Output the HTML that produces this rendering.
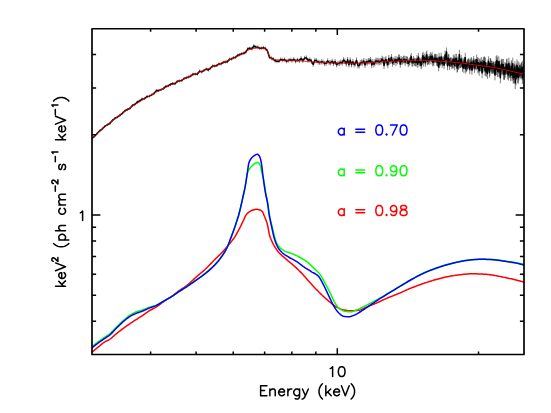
<!DOCTYPE html>
<html><head><meta charset="utf-8"><title>plot</title>
<style>html,body{margin:0;padding:0;background:#fff;font-family:"Liberation Sans",sans-serif;}svg{display:block}</style>
</head><body>
<svg width="551" height="413" viewBox="0 0 551 413">
<rect width="551" height="413" fill="#fff"/>
<defs><clipPath id="cp"><rect x="92.00" y="28.75" width="432.00" height="325.75"/></clipPath></defs>
<g clip-path="url(#cp)">
<path d="M92.00 137.26 V139.78 M94.60 134.93 V137.46 M97.19 132.23 V134.77 M99.77 129.56 V132.12 M102.34 127.51 V130.08 M104.90 125.01 V127.59 M107.45 123.43 V126.02 M109.99 122.03 V124.63 M112.52 119.01 V121.62 M115.04 116.96 V119.59 M117.55 115.65 V118.29 M120.06 113.71 V116.36 M122.55 111.76 V114.41 M125.03 109.41 V112.08 M127.50 108.20 V110.88 M129.97 106.95 V109.64 M132.42 104.13 V106.84 M134.87 103.06 V105.77 M137.30 100.67 V103.39 M139.73 99.53 V102.26 M142.14 97.72 V100.47 M144.55 97.25 V100.00 M146.95 95.22 V97.99 M149.34 94.80 V97.58 M151.72 93.41 V96.20 M154.09 91.90 V94.70 M156.45 89.18 V91.99 M158.80 89.16 V91.98 M161.14 88.26 V91.09 M163.48 87.17 V90.01 M165.80 84.96 V87.82 M168.12 84.50 V87.36 M170.43 83.06 V85.93 M172.72 82.07 V84.95 M175.01 82.21 V85.11 M177.29 79.93 V82.83 M179.57 79.40 V82.31 M181.83 78.98 V81.91 M184.08 77.00 V79.93 M186.33 76.32 V79.26 M188.57 75.49 V78.45 M190.80 74.49 V77.46 M193.02 72.65 V75.63 M195.23 72.60 V75.59 M197.43 72.55 V75.56 M199.62 69.59 V72.61 M201.81 70.37 V73.40 M203.99 68.93 V71.98 M206.16 67.47 V70.53 M208.32 68.48 V71.55 M210.47 66.69 V69.77 M212.62 64.35 V67.45 M214.75 64.40 V67.51 M216.88 63.88 V67.01 M219.00 62.42 V65.56 M221.11 62.19 V65.35 M223.21 60.73 V63.90 M225.31 60.39 V63.57 M227.40 60.08 V63.28 M229.48 57.57 V60.77 M231.55 57.41 V60.63 M233.61 56.05 V59.29 M235.67 55.65 V58.90 M237.71 53.65 V56.91 M239.75 53.04 V56.31 M241.78 52.09 V55.37 M243.81 51.59 V54.88 M245.82 50.40 V53.72 M247.83 47.17 V50.49 M249.83 46.61 V49.95 M251.83 47.07 V50.42 M253.81 44.35 V47.71 M255.79 45.29 V48.66 M257.76 45.44 V48.83 M259.72 46.64 V50.04 M261.68 46.44 V49.89 M263.62 46.05 V49.55 M265.56 46.82 V50.38 M267.50 49.29 V52.90 M269.42 55.45 V59.11 M271.34 56.33 V60.05 M273.25 57.15 V60.92 M275.15 58.82 V62.64 M277.05 59.40 V63.27 M278.94 59.18 V63.10 M280.82 57.40 V61.38 M282.69 58.19 V62.21 M284.56 57.54 V61.62 M286.42 59.21 V63.34 M288.27 58.52 V62.70 M290.11 57.65 V61.88 M291.95 58.42 V62.70 M293.78 57.19 V61.52 M295.61 58.91 V63.29 M297.42 57.65 V62.08 M299.23 58.46 V62.94 M301.04 56.16 V60.68 M302.83 58.38 V62.94 M304.60 55.84 V60.45 M306.35 55.50 V60.14 M308.09 57.95 V62.63 M309.81 57.30 V62.02 M311.51 58.91 V63.66 M313.19 61.97 V66.76 M314.86 57.85 V62.68 M316.51 58.29 V63.16 M318.15 59.62 V64.52 M319.77 60.19 V65.12 M321.37 59.36 V64.33 M322.96 59.43 V64.44 M324.53 60.89 V65.93 M326.08 60.73 V65.81 M327.62 58.49 V63.59 M329.14 60.01 V65.15 M330.65 60.25 V65.43 M332.15 58.63 V63.84 M333.62 60.72 V65.96 M335.09 59.01 V64.28 M336.54 61.94 V67.24 M337.97 60.73 V66.07 M339.39 60.59 V65.96 M340.80 59.51 V64.90 M342.19 60.28 V65.71 M343.57 57.19 V62.65 M344.93 58.60 V64.09 M346.28 61.08 V66.60 M347.62 56.89 V62.43 M348.94 61.88 V67.46 M350.26 57.45 V63.06 M351.55 61.69 V67.35 M352.84 58.88 V64.58 M354.11 61.68 V67.42 M355.37 60.49 V66.28 M356.61 57.46 V63.29 M357.85 62.41 V68.29 M359.07 62.72 V68.64 M360.28 59.91 V65.87 M361.48 59.46 V65.46 M362.66 59.59 V65.64 M363.83 57.98 V64.06 M365.00 61.83 V67.96 M366.15 58.62 V64.79 M367.28 59.49 V65.69 M368.41 57.96 V64.21 M369.53 58.20 V64.48 M370.63 56.82 V63.14 M371.73 61.78 V68.14 M372.81 58.88 V65.28 M373.88 61.07 V67.51 M374.94 59.07 V65.55 M375.99 57.54 V64.06 M377.03 58.23 V64.78 M378.06 57.67 V64.26 M379.08 58.79 V65.41 M380.09 57.92 V64.58 M381.09 58.02 V64.71 M382.08 55.65 V62.38 M383.06 56.81 V63.57 M384.04 62.06 V68.86 M385.00 56.97 V63.80 M385.96 56.06 V62.92 M386.91 59.05 V65.95 M387.86 61.36 V68.29 M388.79 54.94 V61.90 M389.72 57.64 V64.63 M390.64 56.61 V63.64 M391.55 53.97 V61.03 M392.45 59.55 V66.65 M393.35 57.75 V64.88 M394.24 57.89 V65.05 M395.12 55.91 V63.09 M395.99 58.63 V65.84 M396.86 56.23 V63.48 M397.72 57.08 V64.36 M398.57 54.72 V62.03 M399.42 54.37 V61.71 M400.25 60.37 V67.74 M401.08 55.90 V63.29 M401.91 57.74 V65.17 M402.73 56.89 V64.34 M403.54 55.84 V63.32 M404.34 55.61 V63.11 M405.14 58.33 V65.86 M405.93 55.99 V63.55 M406.71 56.30 V63.89 M407.49 56.68 V64.29 M408.26 59.50 V67.14 M409.03 58.23 V65.89 M409.78 57.45 V65.14 M410.54 55.04 V62.75 M411.28 52.93 V60.67 M412.02 58.79 V66.55 M412.75 58.82 V66.60 M413.48 55.97 V63.78 M414.20 57.69 V65.52 M414.92 58.29 V66.15 M415.63 58.41 V66.28 M416.33 58.63 V66.53 M417.03 55.05 V62.97 M417.72 60.17 V68.11 M418.40 52.95 V60.92 M419.08 58.46 V66.45 M419.76 57.50 V65.51 M420.43 58.50 V66.54 M421.09 61.17 V69.23 M421.75 60.14 V68.22 M422.40 53.15 V61.25 M423.05 51.69 V59.81 M423.69 58.40 V66.54 M424.32 53.49 V61.65 M424.95 56.20 V64.38 M425.58 58.52 V66.72 M426.20 51.80 V60.02 M426.81 50.53 V58.77 M427.42 57.00 V65.26 M428.03 56.43 V64.71 M428.63 55.65 V63.96 M429.22 56.45 V64.78 M429.81 53.99 V62.34 M430.40 52.20 V60.57 M430.98 55.95 V64.34 M431.55 53.74 V62.14 M432.12 51.88 V60.30 M432.69 57.91 V66.34 M433.25 56.35 V64.80 M433.81 57.69 V66.16 M434.36 53.78 V62.28 M434.90 54.74 V63.25 M435.45 53.80 V62.33 M435.99 54.14 V62.69 M436.52 57.24 V65.81 M437.05 54.48 V63.06 M437.57 57.76 V66.36 M438.09 57.75 V66.36 M438.61 62.62 V71.25 M439.12 52.82 V61.47 M439.63 59.42 V68.09 M440.13 56.63 V65.31 M440.63 56.88 V65.58 M441.13 52.73 V61.45 M441.63 55.63 V64.37 M442.12 59.17 V67.93 M442.62 56.78 V65.57 M443.11 57.29 V66.09 M443.61 56.22 V65.04 M444.10 60.52 V69.35 M444.59 57.07 V65.93 M445.08 50.64 V59.51 M445.57 55.13 V64.03 M446.06 51.35 V60.26 M446.55 47.53 V56.46 M447.04 55.69 V64.64 M447.52 61.30 V70.27 M448.01 57.47 V66.46 M448.49 53.82 V62.83 M448.97 54.54 V63.57 M449.45 60.84 V69.89 M449.94 57.93 V66.99 M450.42 57.62 V66.70 M450.89 57.34 V66.44 M451.37 57.65 V66.77 M451.85 60.04 V69.17 M452.33 59.30 V68.45 M452.80 58.30 V67.47 M453.27 54.45 V63.64 M453.75 59.28 V68.49 M454.22 55.61 V64.84 M454.69 61.17 V70.41 M455.16 53.84 V63.10 M455.63 57.41 V66.69 M456.10 57.85 V67.15 M456.57 53.76 V63.07 M457.03 63.36 V72.70 M457.50 62.59 V71.94 M457.96 56.56 V65.93 M458.43 60.51 V69.90 M458.89 59.31 V68.71 M459.35 49.84 V59.27 M459.81 58.99 V68.43 M460.27 58.04 V67.50 M460.73 58.54 V68.02 M461.19 54.87 V64.37 M461.65 57.50 V67.01 M462.10 57.84 V67.37 M462.56 62.29 V71.84 M463.01 59.59 V69.15 M463.46 58.54 V68.12 M463.92 63.57 V73.17 M464.37 56.85 V66.47 M464.82 57.44 V67.07 M465.27 52.82 V62.48 M465.72 63.94 V73.61 M466.17 62.02 V71.71 M466.61 61.92 V71.63 M467.06 61.16 V70.89 M467.50 59.38 V69.12 M467.95 59.78 V69.53 M468.39 58.28 V68.06 M468.84 58.49 V68.28 M469.28 59.40 V69.21 M469.72 64.31 V74.14 M470.16 61.18 V71.02 M470.60 59.19 V69.04 M471.03 57.49 V67.37 M471.47 57.35 V67.25 M471.91 64.93 V74.84 M472.34 61.30 V71.22 M472.78 59.87 V69.81 M473.21 58.52 V68.48 M473.64 55.98 V65.96 M474.08 59.57 V69.56 M474.51 62.82 V72.83 M474.94 58.56 V68.58 M475.37 59.17 V69.21 M475.80 59.24 V69.30 M476.22 60.42 V70.49 M476.65 54.62 V64.71 M477.08 59.33 V69.44 M477.50 57.24 V67.36 M477.92 63.29 V73.43 M478.35 57.61 V67.77 M478.77 62.32 V72.50 M479.19 65.66 V75.85 M479.61 59.32 V69.52 M480.03 58.36 V68.58 M480.45 61.16 V71.41 M480.87 60.52 V70.79 M481.29 57.08 V67.37 M481.70 62.23 V72.54 M482.12 67.76 V78.10 M482.53 59.77 V70.13 M482.95 60.00 V70.39 M483.36 57.05 V67.45 M483.77 61.94 V72.37 M484.18 56.38 V66.83 M484.59 56.91 V67.39 M485.00 65.52 V76.01 M485.41 57.70 V68.22 M485.82 64.91 V75.45 M486.23 66.56 V77.12 M486.63 62.03 V72.61 M487.04 63.14 V73.75 M487.45 68.29 V78.92 M487.85 60.51 V71.16 M488.25 59.10 V69.77 M488.65 56.35 V67.05 M489.06 61.52 V72.24 M489.46 66.87 V77.61 M489.86 65.01 V75.78 M490.26 58.03 V68.82 M490.65 58.40 V69.21 M491.05 59.75 V70.58 M491.45 62.77 V73.62 M491.84 60.97 V71.84 M492.24 62.60 V73.49 M492.63 62.97 V73.88 M493.03 60.79 V71.72 M493.42 61.82 V72.78 M493.81 62.81 V73.79 M494.20 61.77 V72.77 M494.59 64.06 V75.08 M494.98 69.33 V80.37 M495.37 64.53 V75.59 M495.76 62.55 V73.64 M496.15 55.94 V67.05 M496.53 63.95 V75.08 M496.92 55.04 V66.19 M497.30 57.16 V68.34 M497.69 65.96 V77.15 M498.07 65.46 V76.67 M498.45 62.21 V73.44 M498.83 56.21 V67.47 M499.22 61.48 V72.76 M499.60 60.34 V71.64 M499.98 65.55 V76.87 M500.35 71.97 V83.31 M500.73 64.05 V75.41 M501.11 60.20 V71.58 M501.49 58.72 V70.13 M501.86 63.19 V74.61 M502.24 62.78 V74.22 M502.61 58.98 V70.45 M502.98 64.08 V75.57 M503.36 59.11 V70.62 M503.73 68.20 V79.73 M504.10 68.08 V79.63 M504.47 68.25 V79.82 M504.84 62.08 V73.66 M505.21 66.12 V77.73 M505.57 63.59 V75.22 M505.94 62.63 V74.28 M506.31 62.90 V74.57 M506.67 59.08 V70.77 M507.04 58.56 V70.26 M507.40 67.72 V79.45 M507.77 63.79 V75.53 M508.13 65.52 V77.29 M508.49 68.81 V80.60 M508.85 57.68 V69.49 M509.21 61.64 V73.47 M509.57 65.65 V77.50 M509.93 66.62 V78.49 M510.29 63.52 V75.41 M510.65 69.41 V81.32 M511.01 66.10 V78.02 M511.36 60.26 V72.21 M511.72 61.50 V73.47 M512.07 68.80 V80.79 M512.43 67.46 V79.46 M512.78 57.65 V69.68 M513.13 71.31 V83.36 M513.49 68.25 V80.31 M513.84 71.46 V83.54 M514.19 64.27 V76.37 M514.54 64.71 V76.83 M514.89 61.27 V73.41 M515.24 76.84 V89.00 M515.58 65.43 V77.61 M515.93 72.99 V85.19 M516.28 63.56 V75.78 M516.62 67.09 V79.32 M516.97 59.32 V71.58 M517.31 64.90 V77.17 M517.65 70.82 V83.11 M518.00 61.30 V73.61 M518.34 71.36 V83.68 M518.68 68.27 V80.61 M519.02 62.38 V74.75 M519.36 64.79 V77.17 M519.70 65.04 V77.44 M520.04 66.88 V79.30 M520.38 64.83 V77.27 M520.72 63.63 V76.09 M521.05 65.97 V78.45 M521.39 62.88 V75.38 M521.72 61.79 V74.31 M522.06 67.29 V79.82 M522.39 71.44 V83.99 M522.72 60.91 V73.48 M523.06 67.71 V80.30 M523.39 64.90 V77.50 M523.72 63.51 V76.14" stroke="#000" stroke-width="0.5" fill="none"/>
<path d="M92.00 138.52 L94.60 136.20 L97.19 133.50 L99.77 130.84 L102.34 128.80 L104.90 126.30 L107.45 124.72 L109.99 123.33 L112.52 120.31 L115.04 118.27 L117.55 116.97 L120.06 115.04 L122.55 113.09 L125.03 110.74 L127.50 109.54 L129.97 108.29 L132.42 105.48 L134.87 104.42 L137.30 102.03 L139.73 100.89 L142.14 99.09 L144.55 98.62 L146.95 96.61 L149.34 96.19 L151.72 94.80 L154.09 93.30 L156.45 90.58 L158.80 90.57 L161.14 89.67 L163.48 88.59 L165.80 86.39 L168.12 85.93 L170.43 84.49 L172.72 83.51 L175.01 83.66 L177.29 81.38 L179.57 80.85 L181.83 80.45 L184.08 78.46 L186.33 77.79 L188.57 76.97 L190.80 75.97 L193.02 74.14 L195.23 74.09 L197.43 74.06 L199.62 71.10 L201.81 71.88 L203.99 70.45 L206.16 69.00 L208.32 70.02 L210.47 68.23 L212.62 65.90 L214.75 65.95 L216.88 65.45 L219.00 63.99 L221.11 63.77 L223.21 62.31 L225.31 61.98 L227.40 61.68 L229.48 59.17 L231.55 59.02 L233.61 57.67 L235.67 57.28 L237.71 55.28 L239.75 54.67 L241.78 53.73 L243.81 53.24 L245.82 52.06 L247.83 48.83 L249.83 48.28 L251.83 48.74 L253.81 46.03 L255.79 46.98 L257.76 47.13 L259.72 48.34 L261.68 48.16 L263.62 47.80 L265.56 48.60 L267.50 51.09 L269.42 57.28 L271.34 58.19 L273.25 59.04 L275.15 60.73 L277.05 61.34 L278.94 61.14 L280.82 59.39 L282.69 60.20 L284.56 59.58 L286.42 61.28 L288.27 60.61 L290.11 59.76 L291.95 60.56 L293.78 59.36 L295.61 61.10 L297.42 59.86 L299.23 60.70 L301.04 58.42 L302.83 60.66 L304.60 58.14 L306.35 57.82 L308.09 60.29 L309.81 59.66 L311.51 61.29 L313.19 64.36 L314.86 60.26 L316.51 60.73 L318.15 62.07 L319.77 62.66 L321.37 61.84 L322.96 61.94 L324.53 63.41 L326.08 63.27 L327.62 61.04 L329.14 62.58 L330.65 62.84 L332.15 61.23 L333.62 63.34 L335.09 61.65 L336.54 64.59 L337.97 63.40 L339.39 63.28 L340.80 62.21 L342.19 63.00 L343.57 59.92 L344.93 61.35 L346.28 63.84 L347.62 59.66 L348.94 64.67 L350.26 60.25 L351.55 64.52 L352.84 61.73 L354.11 64.55 L355.37 63.39 L356.61 60.38 L357.85 65.35 L359.07 65.68 L360.28 62.89 L361.48 62.46 L362.66 62.62 L363.83 61.02 L365.00 64.90 L366.15 61.71 L367.28 62.59 L368.41 61.08 L369.53 61.34 L370.63 59.98 L371.73 64.96 L372.81 62.08 L373.88 64.29 L374.94 62.31 L375.99 60.80 L377.03 61.50 L378.06 60.96 L379.08 62.10 L380.09 61.25 L381.09 61.36 L382.08 59.02 L383.06 60.19 L384.04 65.46 L385.00 60.38 L385.96 59.49 L386.91 62.50 L387.86 64.82 L388.79 58.42 L389.72 61.14 L390.64 60.12 L391.55 57.50 L392.45 63.10 L393.35 61.31 L394.24 61.47 L395.12 59.50 L395.99 62.23 L396.86 59.85 L397.72 60.72 L398.57 58.37 L399.42 58.04 L400.25 64.05 L401.08 59.60 L401.91 61.46 L402.73 60.62 L403.54 59.58 L404.34 59.36 L405.14 62.09 L405.93 59.77 L406.71 60.10 L407.49 60.49 L408.26 63.32 L409.03 62.06 L409.78 61.29 L410.54 58.89 L411.28 56.80 L412.02 62.67 L412.75 62.71 L413.48 59.87 L414.20 61.61 L414.92 62.22 L415.63 62.35 L416.33 62.58 L417.03 59.01 L417.72 64.14 L418.40 56.94 L419.08 62.46 L419.76 61.50 L420.43 62.52 L421.09 65.20 L421.75 64.18 L422.40 57.20 L423.05 55.75 L423.69 62.47 L424.32 57.57 L424.95 60.29 L425.58 62.62 L426.20 55.91 L426.81 54.65 L427.42 61.13 L428.03 60.57 L428.63 59.81 L429.22 60.62 L429.81 58.17 L430.40 56.39 L430.98 60.15 L431.55 57.94 L432.12 56.09 L432.69 62.13 L433.25 60.57 L433.81 61.93 L434.36 58.03 L434.90 59.00 L435.45 58.06 L435.99 58.41 L436.52 61.52 L437.05 58.77 L437.57 62.06 L438.09 62.05 L438.61 66.94 L439.12 57.15 L439.63 63.76 L440.13 60.97 L440.63 61.23 L441.13 57.09 L441.63 60.00 L442.12 63.55 L442.62 61.17 L443.11 61.69 L443.61 60.63 L444.10 64.93 L444.59 61.50 L445.08 55.08 L445.57 59.58 L446.06 55.81 L446.55 52.00 L447.04 60.16 L447.52 65.79 L448.01 61.97 L448.49 58.33 L448.97 59.06 L449.45 65.37 L449.94 62.46 L450.42 62.16 L450.89 61.89 L451.37 62.21 L451.85 64.61 L452.33 63.88 L452.80 62.88 L453.27 59.04 L453.75 63.88 L454.22 60.22 L454.69 65.79 L455.16 58.47 L455.63 62.05 L456.10 62.50 L456.57 58.41 L457.03 68.03 L457.50 67.26 L457.96 61.25 L458.43 65.20 L458.89 64.01 L459.35 54.55 L459.81 63.71 L460.27 62.77 L460.73 63.28 L461.19 59.62 L461.65 62.26 L462.10 62.60 L462.56 67.07 L463.01 64.37 L463.46 63.33 L463.92 68.37 L464.37 61.66 L464.82 62.25 L465.27 57.65 L465.72 68.78 L466.17 66.86 L466.61 66.77 L467.06 66.02 L467.50 64.25 L467.95 64.66 L468.39 63.17 L468.84 63.39 L469.28 64.31 L469.72 69.23 L470.16 66.10 L470.60 64.11 L471.03 62.43 L471.47 62.30 L471.91 69.88 L472.34 66.26 L472.78 64.84 L473.21 63.50 L473.64 60.97 L474.08 64.56 L474.51 67.82 L474.94 63.57 L475.37 64.19 L475.80 64.27 L476.22 65.46 L476.65 59.66 L477.08 64.38 L477.50 62.30 L477.92 68.36 L478.35 62.69 L478.77 67.41 L479.19 70.76 L479.61 64.42 L480.03 63.47 L480.45 66.28 L480.87 65.66 L481.29 62.23 L481.70 67.39 L482.12 72.93 L482.53 64.95 L482.95 65.19 L483.36 62.25 L483.77 67.15 L484.18 61.61 L484.59 62.15 L485.00 70.76 L485.41 62.96 L485.82 70.18 L486.23 71.84 L486.63 67.32 L487.04 68.45 L487.45 73.60 L487.85 65.83 L488.25 64.44 L488.65 61.70 L489.06 66.88 L489.46 72.24 L489.86 70.40 L490.26 63.43 L490.65 63.80 L491.05 65.17 L491.45 68.20 L491.84 66.41 L492.24 68.04 L492.63 68.42 L493.03 66.25 L493.42 67.30 L493.81 68.30 L494.20 67.27 L494.59 69.57 L494.98 74.85 L495.37 70.06 L495.76 68.09 L496.15 61.50 L496.53 69.52 L496.92 60.62 L497.30 62.75 L497.69 71.55 L498.07 71.06 L498.45 67.83 L498.83 61.84 L499.22 67.12 L499.60 65.99 L499.98 71.21 L500.35 77.64 L500.73 69.73 L501.11 65.89 L501.49 64.43 L501.86 68.90 L502.24 68.50 L502.61 64.72 L502.98 69.83 L503.36 64.86 L503.73 73.96 L504.10 73.86 L504.47 74.04 L504.84 67.87 L505.21 71.93 L505.57 69.41 L505.94 68.45 L506.31 68.73 L506.67 64.92 L507.04 64.41 L507.40 73.59 L507.77 69.66 L508.13 71.41 L508.49 74.70 L508.85 63.59 L509.21 67.55 L509.57 71.58 L509.93 72.56 L510.29 69.47 L510.65 75.36 L511.01 72.06 L511.36 66.24 L511.72 67.49 L512.07 74.80 L512.43 73.46 L512.78 63.66 L513.13 77.33 L513.49 74.28 L513.84 77.50 L514.19 70.32 L514.54 70.77 L514.89 67.34 L515.24 82.92 L515.58 71.52 L515.93 79.09 L516.28 69.67 L516.62 73.21 L516.97 65.45 L517.31 71.03 L517.65 76.97 L518.00 67.46 L518.34 77.52 L518.68 74.44 L519.02 68.56 L519.36 70.98 L519.70 71.24 L520.04 73.09 L520.38 71.05 L520.72 69.86 L521.05 72.21 L521.39 69.13 L521.72 68.05 L522.06 73.55 L522.39 77.71 L522.72 67.20 L523.06 74.01 L523.39 71.20 L523.72 69.82" stroke="#000" stroke-width="1.5" fill="none" stroke-linejoin="round"/>
<path d="M92.00 138.52 L93.00 137.56 L94.00 136.61 L95.00 135.67 L96.00 134.74 L97.00 133.81 L98.00 132.90 L99.00 132.00 L100.00 131.10 L101.00 130.21 L102.00 129.33 L103.00 128.46 L104.00 127.60 L105.00 126.75 L106.00 125.90 L107.00 125.06 L108.00 124.23 L109.00 123.41 L110.00 122.60 L111.00 121.79 L112.00 121.00 L113.00 120.21 L114.00 119.42 L115.00 118.65 L116.00 117.88 L117.00 117.12 L118.00 116.36 L119.00 115.62 L120.00 114.88 L121.00 114.14 L122.00 113.42 L123.00 112.70 L124.00 111.99 L125.00 111.29 L126.00 110.59 L127.00 109.90 L128.00 109.22 L129.00 108.54 L130.00 107.87 L131.00 107.20 L132.00 106.54 L133.00 105.89 L134.00 105.24 L135.00 104.60 L136.00 103.97 L137.00 103.34 L138.00 102.72 L139.00 102.10 L140.00 101.49 L141.00 100.88 L142.00 100.28 L143.00 99.68 L144.00 99.09 L145.00 98.50 L146.00 97.92 L147.00 97.35 L148.00 96.78 L149.00 96.21 L150.00 95.65 L151.00 95.10 L152.00 94.55 L153.00 94.00 L154.00 93.46 L155.00 92.92 L156.00 92.39 L157.00 91.86 L158.00 91.33 L159.00 90.81 L160.00 90.29 L161.00 89.78 L162.00 89.27 L163.00 88.76 L164.00 88.26 L165.00 87.76 L166.00 87.27 L167.00 86.78 L168.00 86.29 L169.00 85.81 L170.00 85.33 L171.00 84.85 L172.00 84.38 L173.00 83.91 L174.00 83.44 L175.00 82.97 L176.00 82.51 L177.00 82.05 L178.00 81.59 L179.00 81.13 L180.00 80.68 L181.00 80.23 L182.00 79.78 L183.00 79.33 L184.00 78.89 L185.00 78.45 L186.00 78.01 L187.00 77.58 L188.00 77.14 L189.00 76.71 L190.00 76.27 L191.00 75.84 L192.00 75.41 L193.00 74.99 L194.00 74.56 L195.00 74.14 L196.00 73.71 L197.00 73.29 L198.00 72.87 L199.00 72.45 L200.00 72.03 L201.00 71.61 L202.00 71.19 L203.00 70.78 L204.00 70.36 L205.00 69.95 L206.00 69.53 L207.00 69.11 L208.00 68.70 L209.00 68.28 L210.00 67.87 L211.00 67.45 L212.00 67.04 L213.00 66.63 L214.00 66.21 L215.00 65.80 L216.00 65.38 L217.00 64.97 L218.00 64.55 L219.00 64.13 L220.00 63.72 L221.00 63.30 L222.00 62.88 L223.00 62.46 L224.00 62.03 L225.00 61.60 L226.00 61.17 L227.00 60.74 L228.00 60.31 L229.00 59.89 L230.00 59.48 L231.00 59.08 L232.00 58.68 L233.00 58.28 L234.00 57.88 L235.00 57.47 L236.00 57.04 L237.00 56.59 L238.00 56.11 L239.00 55.60 L240.00 55.05 L241.00 54.47 L242.00 53.85 L243.00 53.21 L244.00 52.56 L245.00 51.91 L246.00 51.30 L247.00 50.74 L248.00 50.24 L249.00 49.80 L250.00 49.42 L251.00 49.10 L252.00 48.83 L253.00 48.61 L254.00 48.43 L255.00 48.27 L256.00 48.14 L257.00 48.04 L258.00 47.98 L259.00 47.96 L260.00 47.98 L261.00 48.06 L262.00 48.19 L263.00 48.39 L264.00 48.64 L265.00 48.98 L266.00 49.55 L267.00 50.68 L268.00 52.60 L269.00 54.98 L270.00 57.16 L271.00 58.44 L272.00 58.96 L273.00 59.18 L274.00 59.39 L275.00 59.60 L276.00 59.79 L277.00 59.96 L278.00 60.10 L279.00 60.20 L280.00 60.27 L281.00 60.30 L282.00 60.32 L283.00 60.31 L284.00 60.29 L285.00 60.27 L286.00 60.24 L287.00 60.22 L288.00 60.20 L289.00 60.20 L290.00 60.21 L291.00 60.23 L292.00 60.27 L293.00 60.31 L294.00 60.36 L295.00 60.43 L296.00 60.50 L297.00 60.57 L298.00 60.65 L299.00 60.74 L300.00 60.83 L301.00 60.92 L302.00 61.02 L303.00 61.11 L304.00 61.21 L305.00 61.30 L306.00 61.39 L307.00 61.48 L308.00 61.56 L309.00 61.65 L310.00 61.73 L311.00 61.80 L312.00 61.88 L313.00 61.95 L314.00 62.01 L315.00 62.08 L316.00 62.14 L317.00 62.21 L318.00 62.27 L319.00 62.32 L320.00 62.38 L321.00 62.43 L322.00 62.49 L323.00 62.54 L324.00 62.59 L325.00 62.63 L326.00 62.68 L327.00 62.73 L328.00 62.77 L329.00 62.81 L330.00 62.85 L331.00 62.89 L332.00 62.93 L333.00 62.97 L334.00 63.00 L335.00 63.03 L336.00 63.06 L337.00 63.09 L338.00 63.11 L339.00 63.14 L340.00 63.16 L341.00 63.18 L342.00 63.19 L343.00 63.21 L344.00 63.22 L345.00 63.23 L346.00 63.23 L347.00 63.24 L348.00 63.24 L349.00 63.24 L350.00 63.23 L351.00 63.22 L352.00 63.21 L353.00 63.20 L354.00 63.18 L355.00 63.16 L356.00 63.14 L357.00 63.12 L358.00 63.09 L359.00 63.06 L360.00 63.02 L361.00 62.98 L362.00 62.94 L363.00 62.90 L364.00 62.85 L365.00 62.81 L366.00 62.76 L367.00 62.70 L368.00 62.65 L369.00 62.60 L370.00 62.54 L371.00 62.49 L372.00 62.44 L373.00 62.38 L374.00 62.33 L375.00 62.28 L376.00 62.23 L377.00 62.18 L378.00 62.13 L379.00 62.09 L380.00 62.04 L381.00 62.00 L382.00 61.96 L383.00 61.92 L384.00 61.88 L385.00 61.84 L386.00 61.80 L387.00 61.75 L388.00 61.70 L389.00 61.64 L390.00 61.59 L391.00 61.52 L392.00 61.46 L393.00 61.39 L394.00 61.32 L395.00 61.25 L396.00 61.18 L397.00 61.10 L398.00 61.03 L399.00 60.96 L400.00 60.89 L401.00 60.82 L402.00 60.75 L403.00 60.68 L404.00 60.62 L405.00 60.56 L406.00 60.51 L407.00 60.45 L408.00 60.41 L409.00 60.37 L410.00 60.33 L411.00 60.30 L412.00 60.27 L413.00 60.24 L414.00 60.22 L415.00 60.21 L416.00 60.20 L417.00 60.19 L418.00 60.19 L419.00 60.20 L420.00 60.21 L421.00 60.22 L422.00 60.24 L423.00 60.26 L424.00 60.29 L425.00 60.32 L426.00 60.36 L427.00 60.40 L428.00 60.45 L429.00 60.50 L430.00 60.55 L431.00 60.61 L432.00 60.67 L433.00 60.73 L434.00 60.80 L435.00 60.86 L436.00 60.93 L437.00 61.00 L438.00 61.07 L439.00 61.15 L440.00 61.22 L441.00 61.30 L442.00 61.37 L443.00 61.44 L444.00 61.52 L445.00 61.59 L446.00 61.67 L447.00 61.75 L448.00 61.82 L449.00 61.90 L450.00 61.98 L451.00 62.07 L452.00 62.15 L453.00 62.24 L454.00 62.33 L455.00 62.42 L456.00 62.51 L457.00 62.61 L458.00 62.71 L459.00 62.82 L460.00 62.93 L461.00 63.05 L462.00 63.17 L463.00 63.29 L464.00 63.42 L465.00 63.55 L466.00 63.68 L467.00 63.81 L468.00 63.95 L469.00 64.09 L470.00 64.23 L471.00 64.37 L472.00 64.51 L473.00 64.64 L474.00 64.78 L475.00 64.92 L476.00 65.05 L477.00 65.18 L478.00 65.31 L479.00 65.44 L480.00 65.56 L481.00 65.68 L482.00 65.80 L483.00 65.92 L484.00 66.04 L485.00 66.17 L486.00 66.30 L487.00 66.43 L488.00 66.57 L489.00 66.72 L490.00 66.87 L491.00 67.03 L492.00 67.20 L493.00 67.37 L494.00 67.55 L495.00 67.74 L496.00 67.92 L497.00 68.12 L498.00 68.32 L499.00 68.52 L500.00 68.73 L501.00 68.94 L502.00 69.15 L503.00 69.37 L504.00 69.59 L505.00 69.81 L506.00 70.04 L507.00 70.26 L508.00 70.49 L509.00 70.72 L510.00 70.96 L511.00 71.19 L512.00 71.42 L513.00 71.66 L514.00 71.89 L515.00 72.13 L516.00 72.36 L517.00 72.60 L518.00 72.83 L519.00 73.06 L520.00 73.29 L521.00 73.52 L522.00 73.75 L523.00 73.98 L524.00 74.20" stroke="#f00" stroke-width="0.8" fill="none"/>
<path d="M92.00 352.20 L92.77 351.56 L93.54 350.92 L94.31 350.28 L95.08 349.65 L95.85 349.01 L96.63 348.38 L97.40 347.75 L98.18 347.12 L98.95 346.49 L99.73 345.85 L100.49 345.19 L101.26 344.54 L102.03 343.90 L102.81 343.27 L103.61 342.68 L104.43 342.13 L105.29 341.63 L106.19 341.18 L107.10 340.74 L108.01 340.30 L108.89 339.84 L109.74 339.33 L110.54 338.76 L111.32 338.14 L112.07 337.48 L112.81 336.80 L113.55 336.11 L114.29 335.43 L115.05 334.77 L115.82 334.14 L116.60 333.51 L117.38 332.89 L118.17 332.27 L118.95 331.65 L119.75 331.04 L120.54 330.43 L121.34 329.82 L122.14 329.22 L122.94 328.62 L123.74 328.03 L124.55 327.44 L125.36 326.86 L126.18 326.28 L126.99 325.71 L127.82 325.14 L128.64 324.57 L129.47 324.01 L130.30 323.45 L131.13 322.89 L131.96 322.33 L132.79 321.78 L133.63 321.23 L134.46 320.68 L135.30 320.13 L136.14 319.59 L136.98 319.05 L137.83 318.52 L138.67 317.98 L139.52 317.44 L140.36 316.90 L141.20 316.36 L142.03 315.81 L142.86 315.26 L143.69 314.69 L144.51 314.11 L145.32 313.53 L146.14 312.95 L146.96 312.37 L147.78 311.81 L148.61 311.25 L149.45 310.72 L150.31 310.20 L151.18 309.72 L152.07 309.25 L152.96 308.78 L153.84 308.32 L154.73 307.84 L155.59 307.35 L156.44 306.83 L157.28 306.29 L158.10 305.72 L158.91 305.14 L159.72 304.55 L160.53 303.95 L161.33 303.35 L162.14 302.76 L162.95 302.17 L163.76 301.59 L164.59 301.03 L165.43 300.48 L166.27 299.95 L167.12 299.41 L167.97 298.88 L168.82 298.35 L169.66 297.81 L170.49 297.26 L171.32 296.70 L172.13 296.11 L172.92 295.51 L173.71 294.89 L174.49 294.27 L175.27 293.64 L176.05 293.00 L176.83 292.38 L177.61 291.76 L178.41 291.16 L179.22 290.57 L180.04 290.00 L180.87 289.44 L181.71 288.89 L182.55 288.35 L183.40 287.80 L184.24 287.26 L185.07 286.70 L185.89 286.13 L186.70 285.55 L187.49 284.95 L188.26 284.32 L189.02 283.67 L189.76 283.01 L190.50 282.34 L191.23 281.66 L191.96 280.97 L192.68 280.27 L193.41 279.58 L194.14 278.89 L194.87 278.20 L195.61 277.52 L196.35 276.86 L197.11 276.21 L197.87 275.56 L198.64 274.91 L199.41 274.27 L200.18 273.64 L200.95 273.00 L201.72 272.35 L202.48 271.71 L203.24 271.06 L203.99 270.40 L204.74 269.74 L205.47 269.06 L206.19 268.37 L206.91 267.67 L207.62 266.97 L208.32 266.26 L209.02 265.55 L209.72 264.83 L210.41 264.11 L211.11 263.39 L211.80 262.66 L212.50 261.94 L213.19 261.22 L213.89 260.51 L214.60 259.80 L215.31 259.10 L216.02 258.39 L216.74 257.70 L217.46 257.00 L218.18 256.30 L218.89 255.60 L219.61 254.90 L220.32 254.20 L221.03 253.49 L221.73 252.78 L222.42 252.06 L223.11 251.34 L223.78 250.60 L224.45 249.86 L225.11 249.10 L225.76 248.35 L226.41 247.58 L227.05 246.81 L227.69 246.04 L228.32 245.27 L228.95 244.50 L229.59 243.72 L230.23 242.95 L230.87 242.18 L231.50 241.40 L232.13 240.61 L232.74 239.82 L233.34 239.02 L233.92 238.21 L234.47 237.39 L235.00 236.55 L235.53 235.70 L236.03 234.84 L236.53 233.97 L237.02 233.10 L237.50 232.22 L237.97 231.33 L238.44 230.44 L238.91 229.56 L239.37 228.67 L239.84 227.78 L240.29 226.89 L240.74 226.00 L241.18 225.10 L241.62 224.20 L242.05 223.30 L242.49 222.40 L242.93 221.50 L243.37 220.61 L243.80 219.69 L244.21 218.75 L244.62 217.80 L245.04 216.87 L245.49 215.98 L245.98 215.14 L246.53 214.36 L247.17 213.64 L247.91 212.95 L248.71 212.30 L249.55 211.71 L250.40 211.20 L251.28 210.73 L252.20 210.30 L253.14 209.94 L254.10 209.68 L255.08 209.46 L256.08 209.32 L257.07 209.32 L258.08 209.47 L259.06 209.69 L260.00 209.97 L260.95 210.43 L261.80 211.01 L262.42 211.67 L262.90 212.48 L263.31 213.42 L263.68 214.41 L264.05 215.38 L264.44 216.31 L264.83 217.23 L265.21 218.16 L265.59 219.09 L265.95 220.03 L266.30 220.97 L266.63 221.91 L266.94 222.86 L267.22 223.81 L267.47 224.77 L267.69 225.74 L267.89 226.72 L268.07 227.71 L268.25 228.70 L268.41 229.70 L268.58 230.69 L268.76 231.68 L268.95 232.66 L269.16 233.63 L269.39 234.60 L269.66 235.55 L269.96 236.50 L270.28 237.45 L270.64 238.39 L271.01 239.32 L271.41 240.25 L271.82 241.17 L272.25 242.08 L272.68 242.97 L273.13 243.86 L273.59 244.74 L274.07 245.62 L274.58 246.50 L275.10 247.36 L275.65 248.21 L276.21 249.05 L276.79 249.87 L277.38 250.67 L277.99 251.45 L278.61 252.20 L279.28 252.93 L279.97 253.64 L280.69 254.34 L281.43 255.02 L282.18 255.70 L282.94 256.36 L283.70 257.03 L284.46 257.69 L285.21 258.35 L285.96 259.02 L286.72 259.67 L287.48 260.32 L288.25 260.96 L289.02 261.59 L289.79 262.23 L290.56 262.87 L291.33 263.51 L292.09 264.16 L292.84 264.82 L293.59 265.49 L294.33 266.15 L295.08 266.82 L295.82 267.50 L296.55 268.17 L297.29 268.86 L298.01 269.54 L298.73 270.24 L299.44 270.94 L300.14 271.65 L300.83 272.37 L301.52 273.10 L302.19 273.83 L302.86 274.58 L303.52 275.33 L304.18 276.08 L304.84 276.84 L305.49 277.59 L306.15 278.35 L306.81 279.10 L307.47 279.86 L308.13 280.61 L308.80 281.35 L309.48 282.09 L310.15 282.82 L310.83 283.56 L311.51 284.30 L312.19 285.03 L312.87 285.77 L313.55 286.50 L314.23 287.23 L314.92 287.95 L315.61 288.68 L316.30 289.40 L317.00 290.11 L317.70 290.83 L318.41 291.53 L319.11 292.24 L319.83 292.94 L320.54 293.65 L321.26 294.34 L321.98 295.04 L322.70 295.73 L323.43 296.42 L324.16 297.10 L324.90 297.78 L325.65 298.44 L326.39 299.10 L327.15 299.75 L327.91 300.40 L328.67 301.06 L329.44 301.72 L330.21 302.38 L330.98 303.03 L331.76 303.67 L332.55 304.30 L333.36 304.90 L334.17 305.48 L334.99 306.02 L335.83 306.54 L336.69 307.01 L337.56 307.49 L338.46 307.96 L339.37 308.41 L340.30 308.83 L341.24 309.21 L342.19 309.54 L343.14 309.80 L344.10 310.00 L345.07 310.18 L346.06 310.35 L347.06 310.50 L348.06 310.63 L349.06 310.73 L350.07 310.79 L351.06 310.80 L352.06 310.78 L353.07 310.74 L354.08 310.68 L355.08 310.60 L356.08 310.51 L357.07 310.41 L358.05 310.31 L359.01 310.15 L359.96 309.92 L360.90 309.61 L361.84 309.25 L362.77 308.85 L363.70 308.43 L364.62 307.99 L365.54 307.56 L366.47 307.15 L367.40 306.77 L368.33 306.40 L369.26 306.03 L370.18 305.65 L371.11 305.27 L372.03 304.89 L372.96 304.51 L373.88 304.12 L374.80 303.73 L375.72 303.34 L376.64 302.94 L377.55 302.53 L378.46 302.12 L379.37 301.70 L380.27 301.27 L381.18 300.84 L382.08 300.42 L382.99 299.99 L383.89 299.57 L384.80 299.15 L385.71 298.74 L386.63 298.33 L387.54 297.94 L388.47 297.56 L389.39 297.18 L390.32 296.81 L391.25 296.44 L392.19 296.08 L393.12 295.72 L394.05 295.36 L394.99 295.00 L395.92 294.64 L396.85 294.27 L397.78 293.90 L398.70 293.52 L399.62 293.13 L400.54 292.73 L401.45 292.32 L402.36 291.90 L403.27 291.48 L404.18 291.06 L405.08 290.64 L405.99 290.23 L406.91 289.82 L407.82 289.42 L408.75 289.04 L409.67 288.66 L410.60 288.28 L411.52 287.91 L412.46 287.54 L413.39 287.18 L414.32 286.82 L415.26 286.46 L416.19 286.11 L417.13 285.75 L418.06 285.40 L419.00 285.05 L419.94 284.71 L420.88 284.36 L421.82 284.02 L422.76 283.69 L423.70 283.35 L424.65 283.03 L425.60 282.71 L426.55 282.40 L427.50 282.09 L428.45 281.79 L429.40 281.49 L430.36 281.20 L431.32 280.91 L432.28 280.62 L433.24 280.34 L434.20 280.07 L435.16 279.79 L436.12 279.52 L437.09 279.25 L438.05 278.98 L439.01 278.71 L439.98 278.45 L440.95 278.19 L441.92 277.94 L442.89 277.70 L443.86 277.47 L444.83 277.26 L445.81 277.05 L446.79 276.85 L447.77 276.65 L448.75 276.47 L449.74 276.28 L450.72 276.11 L451.71 275.94 L452.70 275.78 L453.68 275.62 L454.67 275.47 L455.66 275.32 L456.65 275.17 L457.64 275.03 L458.63 274.90 L459.63 274.77 L460.62 274.65 L461.61 274.54 L462.61 274.45 L463.60 274.35 L464.60 274.25 L465.59 274.16 L466.59 274.07 L467.59 273.98 L468.59 273.91 L469.59 273.85 L470.59 273.82 L471.58 273.80 L472.58 273.80 L473.58 273.81 L474.58 273.83 L475.58 273.85 L476.58 273.87 L477.58 273.90 L478.58 273.93 L479.58 273.96 L480.58 274.00 L481.58 274.03 L482.58 274.08 L483.58 274.14 L484.58 274.21 L485.58 274.29 L486.57 274.37 L487.57 274.46 L488.56 274.56 L489.56 274.66 L490.55 274.79 L491.53 274.93 L492.52 275.10 L493.51 275.27 L494.49 275.45 L495.48 275.63 L496.46 275.81 L497.45 275.99 L498.43 276.18 L499.41 276.37 L500.39 276.56 L501.37 276.76 L502.35 276.96 L503.33 277.17 L504.31 277.37 L505.29 277.58 L506.27 277.78 L507.25 277.99 L508.22 278.19 L509.20 278.40 L510.18 278.61 L511.16 278.83 L512.13 279.04 L513.11 279.27 L514.08 279.50 L515.05 279.74 L516.02 279.98 L516.99 280.23 L517.96 280.48 L518.92 280.74 L519.89 281.01 L520.85 281.28 L521.81 281.55 L522.77 281.83 L523.73 282.12 L524.00 282.20" stroke="#ff0000" stroke-width="1.5" fill="none" stroke-linejoin="round" stroke-linecap="round"/>
<path d="M92.00 346.60 L92.78 345.97 L93.56 345.35 L94.35 344.73 L95.14 344.11 L95.93 343.50 L96.72 342.90 L97.52 342.30 L98.32 341.70 L99.13 341.11 L99.94 340.52 L100.76 339.95 L101.58 339.37 L102.40 338.80 L103.22 338.24 L104.05 337.67 L104.87 337.10 L105.70 336.54 L106.52 335.97 L107.36 335.42 L108.20 334.86 L109.02 334.30 L109.81 333.69 L110.55 333.04 L111.28 332.36 L111.98 331.65 L112.66 330.91 L113.35 330.18 L114.03 329.44 L114.73 328.71 L115.44 328.01 L116.15 327.31 L116.87 326.61 L117.58 325.91 L118.30 325.21 L119.01 324.51 L119.74 323.81 L120.46 323.12 L121.19 322.44 L121.92 321.76 L122.66 321.09 L123.41 320.42 L124.16 319.76 L124.92 319.11 L125.68 318.46 L126.45 317.81 L127.22 317.18 L128.01 316.56 L128.81 315.96 L129.63 315.40 L130.46 314.85 L131.31 314.32 L132.18 313.81 L133.06 313.32 L133.95 312.86 L134.85 312.44 L135.77 312.06 L136.70 311.71 L137.64 311.39 L138.60 311.09 L139.56 310.80 L140.52 310.51 L141.48 310.21 L142.43 309.89 L143.37 309.55 L144.31 309.20 L145.24 308.84 L146.18 308.48 L147.11 308.13 L148.05 307.78 L148.99 307.44 L149.94 307.12 L150.90 306.83 L151.87 306.56 L152.84 306.30 L153.80 306.03 L154.76 305.74 L155.70 305.42 L156.62 305.06 L157.52 304.65 L158.40 304.20 L159.28 303.72 L160.15 303.22 L161.01 302.70 L161.87 302.17 L162.74 301.65 L163.60 301.14 L164.47 300.64 L165.35 300.16 L166.22 299.68 L167.10 299.19 L167.98 298.71 L168.85 298.22 L169.72 297.72 L170.58 297.22 L171.43 296.70 L172.28 296.17 L173.12 295.63 L173.95 295.07 L174.77 294.51 L175.60 293.94 L176.42 293.37 L177.24 292.80 L178.07 292.24 L178.91 291.69 L179.75 291.14 L180.59 290.60 L181.43 290.07 L182.28 289.54 L183.13 289.00 L183.97 288.47 L184.82 287.93 L185.66 287.39 L186.49 286.84 L187.33 286.29 L188.15 285.73 L188.98 285.17 L189.80 284.60 L190.62 284.02 L191.44 283.45 L192.25 282.87 L193.06 282.28 L193.88 281.70 L194.69 281.11 L195.49 280.52 L196.30 279.93 L197.11 279.35 L197.92 278.76 L198.73 278.17 L199.54 277.58 L200.35 276.99 L201.15 276.39 L201.95 275.79 L202.75 275.19 L203.54 274.57 L204.32 273.96 L205.10 273.33 L205.87 272.69 L206.64 272.05 L207.40 271.41 L208.16 270.75 L208.92 270.10 L209.67 269.43 L210.42 268.76 L211.15 268.08 L211.89 267.40 L212.61 266.71 L213.32 266.01 L214.02 265.30 L214.72 264.59 L215.41 263.87 L216.09 263.13 L216.77 262.40 L217.44 261.65 L218.10 260.89 L218.76 260.13 L219.40 259.36 L220.03 258.58 L220.64 257.79 L221.24 256.99 L221.82 256.19 L222.40 255.38 L222.96 254.55 L223.52 253.72 L224.07 252.87 L224.61 252.02 L225.13 251.16 L225.63 250.29 L226.12 249.42 L226.58 248.54 L227.03 247.65 L227.44 246.75 L227.84 245.84 L228.22 244.92 L228.59 243.99 L228.95 243.05 L229.30 242.11 L229.65 241.16 L229.99 240.22 L230.34 239.28 L230.70 238.35 L231.05 237.41 L231.41 236.48 L231.76 235.54 L232.12 234.61 L232.47 233.67 L232.82 232.73 L233.16 231.79 L233.50 230.85 L233.84 229.91 L234.17 228.97 L234.50 228.02 L234.82 227.08 L235.14 226.13 L235.45 225.18 L235.77 224.23 L236.07 223.28 L236.38 222.33 L236.69 221.37 L236.99 220.42 L237.30 219.47 L237.61 218.52 L237.92 217.57 L238.22 216.61 L238.51 215.66 L238.78 214.70 L239.04 213.73 L239.30 212.77 L239.55 211.80 L239.79 210.83 L240.03 209.86 L240.27 208.89 L240.50 207.91 L240.72 206.94 L240.95 205.96 L241.17 204.99 L241.39 204.01 L241.61 203.03 L241.82 202.06 L242.04 201.08 L242.25 200.10 L242.47 199.13 L242.69 198.15 L242.91 197.17 L243.13 196.20 L243.34 195.22 L243.56 194.25 L243.78 193.27 L243.99 192.29 L244.20 191.31 L244.41 190.34 L244.62 189.36 L244.82 188.38 L245.01 187.40 L245.21 186.42 L245.39 185.43 L245.57 184.45 L245.73 183.46 L245.87 182.46 L246.01 181.46 L246.14 180.46 L246.28 179.46 L246.41 178.46 L246.56 177.46 L246.72 176.48 L246.89 175.50 L247.08 174.53 L247.30 173.57 L247.55 172.62 L247.90 171.68 L248.34 170.77 L248.81 169.90 L249.34 169.05 L249.93 168.23 L250.56 167.44 L251.22 166.69 L251.90 165.96 L252.62 165.25 L253.38 164.57 L254.18 163.95 L255.01 163.44 L255.94 162.94 L256.91 162.53 L257.77 162.42 L258.60 162.87 L259.35 163.72 L259.93 164.65 L260.28 165.48 L260.57 166.39 L260.81 167.36 L261.01 168.37 L261.20 169.39 L261.40 170.42 L261.61 171.42 L261.85 172.39 L262.11 173.36 L262.38 174.33 L262.64 175.29 L262.89 176.26 L263.13 177.23 L263.34 178.20 L263.54 179.18 L263.72 180.16 L263.89 181.15 L264.05 182.13 L264.21 183.12 L264.37 184.11 L264.52 185.10 L264.66 186.09 L264.81 187.08 L264.96 188.07 L265.11 189.06 L265.27 190.05 L265.43 191.04 L265.60 192.02 L265.78 193.01 L265.96 193.99 L266.16 194.97 L266.37 195.95 L266.58 196.93 L266.79 197.90 L267.00 198.88 L267.21 199.86 L267.41 200.84 L267.60 201.82 L267.78 202.80 L267.95 203.79 L268.10 204.78 L268.24 205.77 L268.38 206.76 L268.50 207.75 L268.63 208.74 L268.75 209.74 L268.88 210.73 L269.01 211.72 L269.14 212.71 L269.29 213.70 L269.45 214.69 L269.62 215.67 L269.80 216.65 L270.00 217.63 L270.21 218.61 L270.43 219.58 L270.65 220.56 L270.88 221.53 L271.12 222.51 L271.35 223.48 L271.59 224.45 L271.82 225.43 L272.06 226.40 L272.29 227.37 L272.51 228.35 L272.74 229.32 L272.97 230.29 L273.20 231.27 L273.43 232.24 L273.67 233.21 L273.92 234.18 L274.17 235.15 L274.43 236.11 L274.69 237.08 L274.95 238.06 L275.22 239.04 L275.50 240.01 L275.82 240.95 L276.16 241.87 L276.56 242.76 L277.02 243.66 L277.53 244.54 L278.10 245.40 L278.71 246.23 L279.34 247.00 L280.00 247.70 L280.71 248.36 L281.48 248.99 L282.31 249.58 L283.17 250.14 L284.06 250.65 L284.95 251.12 L285.84 251.54 L286.75 251.91 L287.69 252.23 L288.65 252.54 L289.62 252.83 L290.58 253.13 L291.54 253.45 L292.48 253.79 L293.40 254.17 L294.32 254.57 L295.23 254.99 L296.13 255.42 L297.03 255.87 L297.92 256.33 L298.81 256.79 L299.68 257.27 L300.56 257.75 L301.43 258.25 L302.30 258.75 L303.16 259.27 L304.01 259.80 L304.85 260.35 L305.68 260.91 L306.50 261.48 L307.29 262.07 L308.07 262.69 L308.83 263.34 L309.57 264.00 L310.31 264.69 L311.03 265.38 L311.75 266.08 L312.47 266.78 L313.20 267.47 L313.93 268.16 L314.67 268.85 L315.41 269.54 L316.14 270.24 L316.86 270.94 L317.57 271.66 L318.26 272.38 L318.92 273.12 L319.55 273.88 L320.14 274.66 L320.70 275.46 L321.24 276.29 L321.76 277.14 L322.26 278.01 L322.75 278.88 L323.23 279.77 L323.70 280.67 L324.17 281.56 L324.64 282.46 L325.11 283.35 L325.58 284.23 L326.06 285.10 L326.53 285.99 L327.00 286.87 L327.46 287.76 L327.92 288.65 L328.38 289.53 L328.83 290.43 L329.29 291.32 L329.74 292.21 L330.19 293.10 L330.64 293.99 L331.09 294.89 L331.53 295.79 L331.95 296.71 L332.37 297.63 L332.78 298.55 L333.20 299.46 L333.63 300.37 L334.07 301.27 L334.54 302.14 L335.03 303.00 L335.55 303.83 L336.10 304.68 L336.69 305.53 L337.30 306.37 L337.95 307.18 L338.63 307.92 L339.34 308.58 L340.09 309.13 L340.91 309.66 L341.80 310.16 L342.74 310.62 L343.70 311.00 L344.68 311.28 L345.64 311.43 L346.62 311.52 L347.62 311.60 L348.64 311.66 L349.65 311.71 L350.64 311.73 L351.62 311.67 L352.59 311.47 L353.56 311.16 L354.51 310.80 L355.46 310.42 L356.40 310.07 L357.32 309.71 L358.24 309.32 L359.15 308.90 L360.05 308.46 L360.95 308.01 L361.85 307.56 L362.74 307.11 L363.64 306.67 L364.54 306.23 L365.44 305.79 L366.33 305.34 L367.23 304.89 L368.12 304.44 L369.01 303.99 L369.90 303.53 L370.79 303.07 L371.68 302.61 L372.56 302.15 L373.44 301.68 L374.33 301.21 L375.21 300.73 L376.08 300.25 L376.96 299.77 L377.83 299.28 L378.71 298.80 L379.58 298.30 L380.45 297.81 L381.31 297.31 L382.18 296.81 L383.04 296.31 L383.90 295.80 L384.77 295.29 L385.63 294.78 L386.49 294.27 L387.35 293.76 L388.21 293.25 L389.07 292.74 L389.93 292.23 L390.78 291.72 L391.64 291.20 L392.50 290.69 L393.36 290.17 L394.21 289.66 L395.07 289.14 L395.93 288.63 L396.79 288.11 L397.64 287.60 L398.50 287.08 L399.36 286.57 L400.21 286.05 L401.07 285.53 L401.92 285.01 L402.78 284.49 L403.63 283.97 L404.49 283.45 L405.34 282.93 L406.20 282.42 L407.06 281.91 L407.92 281.40 L408.79 280.90 L409.65 280.40 L410.52 279.90 L411.38 279.40 L412.25 278.90 L413.12 278.41 L414.00 277.92 L414.87 277.44 L415.75 276.96 L416.63 276.49 L417.52 276.03 L418.41 275.58 L419.30 275.12 L420.20 274.67 L421.09 274.23 L421.99 273.79 L422.90 273.36 L423.80 272.93 L424.71 272.52 L425.63 272.11 L426.54 271.72 L427.46 271.34 L428.39 270.97 L429.32 270.60 L430.26 270.24 L431.19 269.89 L432.13 269.54 L433.07 269.20 L434.02 268.87 L434.96 268.53 L435.90 268.20 L436.85 267.87 L437.79 267.54 L438.74 267.21 L439.68 266.89 L440.63 266.58 L441.59 266.27 L442.54 265.96 L443.49 265.67 L444.45 265.38 L445.41 265.10 L446.37 264.83 L447.34 264.56 L448.30 264.30 L449.27 264.05 L450.24 263.80 L451.21 263.55 L452.18 263.31 L453.15 263.07 L454.12 262.83 L455.09 262.60 L456.07 262.36 L457.04 262.13 L458.02 261.91 L458.99 261.69 L459.97 261.48 L460.95 261.28 L461.93 261.09 L462.91 260.92 L463.90 260.75 L464.89 260.59 L465.87 260.43 L466.86 260.27 L467.86 260.13 L468.85 260.00 L469.84 259.88 L470.84 259.78 L471.83 259.69 L472.83 259.62 L473.82 259.54 L474.82 259.47 L475.82 259.40 L476.82 259.34 L477.82 259.29 L478.82 259.25 L479.82 259.23 L480.82 259.22 L481.82 259.22 L482.82 259.23 L483.82 259.24 L484.82 259.25 L485.82 259.27 L486.82 259.29 L487.82 259.31 L488.82 259.33 L489.82 259.36 L490.81 259.41 L491.81 259.47 L492.81 259.54 L493.81 259.62 L494.81 259.70 L495.80 259.79 L496.80 259.89 L497.79 259.99 L498.78 260.11 L499.77 260.24 L500.76 260.38 L501.75 260.53 L502.74 260.68 L503.73 260.82 L504.72 260.97 L505.71 261.11 L506.71 261.24 L507.70 261.38 L508.69 261.51 L509.68 261.65 L510.67 261.78 L511.66 261.93 L512.65 262.08 L513.64 262.24 L514.62 262.40 L515.60 262.58 L516.58 262.77 L517.56 262.97 L518.54 263.18 L519.52 263.40 L520.49 263.62 L521.47 263.86 L522.44 264.10 L523.41 264.34 L524.00 264.50" stroke="#00ff00" stroke-width="1.5" fill="none" stroke-linejoin="round" stroke-linecap="round"/>
<path d="M92.00 347.80 L92.78 347.17 L93.57 346.55 L94.35 345.94 L95.15 345.32 L95.94 344.72 L96.74 344.11 L97.54 343.52 L98.34 342.92 L99.15 342.33 L99.96 341.75 L100.78 341.18 L101.60 340.61 L102.43 340.04 L103.25 339.48 L104.08 338.91 L104.91 338.35 L105.73 337.79 L106.56 337.22 L107.40 336.68 L108.25 336.13 L109.07 335.56 L109.85 334.95 L110.59 334.30 L111.31 333.61 L112.00 332.89 L112.68 332.15 L113.36 331.41 L114.04 330.66 L114.72 329.93 L115.43 329.22 L116.14 328.51 L116.84 327.80 L117.55 327.09 L118.26 326.38 L118.97 325.67 L119.68 324.97 L120.40 324.27 L121.13 323.58 L121.86 322.90 L122.59 322.23 L123.34 321.56 L124.09 320.91 L124.86 320.27 L125.63 319.64 L126.42 319.01 L127.21 318.39 L128.02 317.80 L128.84 317.22 L129.67 316.68 L130.52 316.16 L131.38 315.66 L132.26 315.18 L133.15 314.71 L134.05 314.27 L134.96 313.85 L135.88 313.46 L136.80 313.10 L137.74 312.76 L138.69 312.43 L139.64 312.10 L140.58 311.77 L141.53 311.43 L142.46 311.07 L143.38 310.69 L144.30 310.30 L145.22 309.89 L146.13 309.48 L147.04 309.07 L147.96 308.66 L148.88 308.27 L149.80 307.89 L150.74 307.53 L151.68 307.20 L152.63 306.87 L153.58 306.54 L154.52 306.20 L155.44 305.83 L156.35 305.43 L157.24 304.99 L158.11 304.52 L158.98 304.02 L159.83 303.50 L160.69 302.96 L161.54 302.43 L162.39 301.89 L163.24 301.36 L164.10 300.85 L164.97 300.36 L165.85 299.87 L166.72 299.38 L167.60 298.90 L168.47 298.42 L169.35 297.93 L170.21 297.43 L171.07 296.92 L171.92 296.40 L172.76 295.86 L173.60 295.31 L174.42 294.74 L175.25 294.18 L176.07 293.61 L176.90 293.04 L177.72 292.48 L178.55 291.92 L179.39 291.37 L180.23 290.83 L181.07 290.29 L181.92 289.76 L182.76 289.22 L183.61 288.69 L184.45 288.15 L185.29 287.61 L186.14 287.07 L186.97 286.52 L187.81 285.97 L188.64 285.42 L189.47 284.86 L190.30 284.30 L191.12 283.74 L191.95 283.17 L192.77 282.61 L193.60 282.04 L194.42 281.46 L195.24 280.89 L196.05 280.31 L196.87 279.74 L197.69 279.16 L198.51 278.59 L199.33 278.01 L200.15 277.43 L200.96 276.85 L201.77 276.26 L202.58 275.67 L203.37 275.07 L204.17 274.46 L204.95 273.84 L205.73 273.22 L206.50 272.59 L207.27 271.95 L208.04 271.31 L208.81 270.66 L209.57 270.00 L210.32 269.33 L211.06 268.66 L211.80 267.98 L212.53 267.29 L213.24 266.59 L213.94 265.89 L214.63 265.17 L215.31 264.45 L215.98 263.71 L216.65 262.96 L217.31 262.20 L217.96 261.44 L218.60 260.66 L219.23 259.88 L219.85 259.09 L220.45 258.29 L221.04 257.48 L221.62 256.67 L222.18 255.86 L222.74 255.03 L223.30 254.19 L223.84 253.35 L224.37 252.49 L224.89 251.63 L225.39 250.76 L225.88 249.88 L226.35 249.00 L226.80 248.11 L227.23 247.22 L227.63 246.31 L228.02 245.40 L228.40 244.47 L228.76 243.54 L229.11 242.60 L229.46 241.66 L229.81 240.71 L230.16 239.77 L230.51 238.83 L230.87 237.90 L231.22 236.97 L231.58 236.03 L231.93 235.10 L232.28 234.16 L232.63 233.22 L232.98 232.28 L233.32 231.34 L233.66 230.40 L234.00 229.46 L234.33 228.52 L234.65 227.57 L234.97 226.63 L235.29 225.68 L235.60 224.73 L235.91 223.78 L236.22 222.82 L236.53 221.87 L236.83 220.92 L237.14 219.97 L237.45 219.02 L237.76 218.07 L238.07 217.11 L238.36 216.16 L238.64 215.20 L238.91 214.24 L239.17 213.27 L239.42 212.31 L239.67 211.34 L239.91 210.37 L240.14 209.40 L240.38 208.42 L240.60 207.45 L240.83 206.47 L241.05 205.50 L241.27 204.52 L241.49 203.55 L241.71 202.57 L241.93 201.59 L242.14 200.61 L242.36 199.64 L242.57 198.66 L242.79 197.69 L243.01 196.71 L243.23 195.73 L243.45 194.76 L243.67 193.78 L243.89 192.80 L244.10 191.83 L244.32 190.85 L244.52 189.87 L244.73 188.89 L244.92 187.91 L245.12 186.93 L245.30 185.95 L245.48 184.97 L245.65 183.98 L245.81 183.00 L245.97 182.01 L246.12 181.02 L246.28 180.03 L246.42 179.04 L246.57 178.05 L246.72 177.06 L246.86 176.07 L247.00 175.08 L247.15 174.09 L247.30 173.10 L247.45 172.12 L247.60 171.13 L247.74 170.13 L247.87 169.12 L247.99 168.11 L248.12 167.11 L248.27 166.11 L248.42 165.13 L248.61 164.16 L248.82 163.21 L249.09 162.27 L249.46 161.34 L249.92 160.41 L250.44 159.53 L251.00 158.70 L251.59 157.94 L252.27 157.21 L253.03 156.51 L253.84 155.88 L254.67 155.33 L255.56 154.83 L256.52 154.37 L257.41 154.21 L258.24 154.65 L259.00 155.50 L259.54 156.37 L259.92 157.21 L260.25 158.13 L260.54 159.11 L260.79 160.12 L261.00 161.14 L261.20 162.15 L261.38 163.13 L261.54 164.11 L261.69 165.10 L261.82 166.08 L261.95 167.08 L262.07 168.07 L262.18 169.06 L262.29 170.06 L262.39 171.06 L262.50 172.06 L262.61 173.05 L262.72 174.05 L262.84 175.05 L262.97 176.04 L263.10 177.03 L263.23 178.02 L263.37 179.01 L263.50 180.00 L263.64 180.99 L263.78 181.98 L263.91 182.98 L264.05 183.97 L264.20 184.96 L264.34 185.95 L264.49 186.94 L264.64 187.92 L264.79 188.91 L264.95 189.90 L265.11 190.89 L265.28 191.87 L265.44 192.86 L265.63 193.84 L265.82 194.82 L266.02 195.80 L266.23 196.78 L266.45 197.76 L266.66 198.73 L266.87 199.71 L267.07 200.69 L267.27 201.67 L267.45 202.65 L267.62 203.64 L267.78 204.63 L267.92 205.61 L268.06 206.61 L268.19 207.60 L268.31 208.59 L268.44 209.58 L268.57 210.58 L268.69 211.57 L268.83 212.56 L268.97 213.55 L269.12 214.54 L269.29 215.52 L269.46 216.50 L269.65 217.49 L269.84 218.47 L270.04 219.45 L270.25 220.43 L270.46 221.40 L270.67 222.38 L270.89 223.36 L271.11 224.34 L271.33 225.31 L271.54 226.29 L271.76 227.27 L271.97 228.24 L272.18 229.23 L272.38 230.21 L272.59 231.19 L272.80 232.17 L273.01 233.15 L273.23 234.13 L273.46 235.10 L273.70 236.07 L273.95 237.04 L274.22 237.99 L274.50 238.94 L274.80 239.90 L275.12 240.86 L275.45 241.82 L275.80 242.77 L276.18 243.72 L276.57 244.65 L276.98 245.56 L277.42 246.45 L277.88 247.31 L278.37 248.15 L278.92 248.97 L279.53 249.77 L280.18 250.56 L280.86 251.32 L281.57 252.05 L282.30 252.74 L283.03 253.38 L283.80 253.99 L284.61 254.58 L285.44 255.13 L286.30 255.67 L287.16 256.20 L288.03 256.72 L288.89 257.23 L289.75 257.74 L290.63 258.22 L291.52 258.69 L292.41 259.15 L293.30 259.61 L294.18 260.08 L295.06 260.56 L295.92 261.06 L296.76 261.60 L297.58 262.16 L298.39 262.75 L299.18 263.35 L299.98 263.97 L300.77 264.59 L301.56 265.20 L302.36 265.81 L303.17 266.40 L303.99 266.96 L304.82 267.52 L305.66 268.06 L306.50 268.60 L307.34 269.14 L308.19 269.67 L309.04 270.20 L309.89 270.73 L310.74 271.26 L311.60 271.78 L312.49 272.29 L313.40 272.78 L314.31 273.28 L315.21 273.78 L316.07 274.31 L316.88 274.86 L317.62 275.45 L318.29 276.10 L318.90 276.81 L319.48 277.58 L320.03 278.41 L320.55 279.28 L321.05 280.17 L321.53 281.09 L322.01 282.01 L322.48 282.93 L322.95 283.83 L323.42 284.71 L323.89 285.60 L324.34 286.48 L324.78 287.38 L325.22 288.28 L325.65 289.18 L326.07 290.09 L326.49 291.00 L326.92 291.91 L327.34 292.81 L327.76 293.72 L328.19 294.63 L328.62 295.53 L329.06 296.43 L329.50 297.33 L329.93 298.23 L330.36 299.14 L330.79 300.05 L331.22 300.96 L331.65 301.87 L332.09 302.77 L332.53 303.67 L332.99 304.55 L333.47 305.43 L333.96 306.29 L334.46 307.14 L334.99 307.99 L335.54 308.84 L336.10 309.69 L336.69 310.53 L337.30 311.33 L337.94 312.10 L338.61 312.82 L339.31 313.49 L340.07 314.18 L340.87 314.86 L341.72 315.47 L342.60 315.96 L343.50 316.28 L344.43 316.45 L345.42 316.60 L346.44 316.72 L347.46 316.79 L348.45 316.79 L349.44 316.67 L350.43 316.44 L351.40 316.16 L352.36 315.86 L353.29 315.55 L354.21 315.18 L355.11 314.76 L356.00 314.29 L356.89 313.80 L357.76 313.29 L358.63 312.77 L359.49 312.25 L360.36 311.75 L361.21 311.24 L362.05 310.71 L362.89 310.16 L363.73 309.61 L364.56 309.05 L365.38 308.48 L366.21 307.92 L367.04 307.35 L367.86 306.78 L368.69 306.22 L369.52 305.66 L370.35 305.10 L371.17 304.54 L372.00 303.97 L372.82 303.40 L373.65 302.83 L374.47 302.27 L375.30 301.70 L376.12 301.14 L376.95 300.59 L377.79 300.04 L378.63 299.49 L379.47 298.95 L380.31 298.42 L381.16 297.88 L382.01 297.35 L382.86 296.82 L383.71 296.30 L384.56 295.77 L385.41 295.25 L386.26 294.72 L387.11 294.20 L387.96 293.68 L388.82 293.15 L389.67 292.63 L390.52 292.11 L391.38 291.59 L392.23 291.07 L393.09 290.55 L393.94 290.04 L394.80 289.52 L395.65 289.00 L396.51 288.48 L397.37 287.97 L398.22 287.45 L399.08 286.93 L399.93 286.42 L400.79 285.90 L401.64 285.38 L402.50 284.86 L403.35 284.34 L404.21 283.82 L405.06 283.30 L405.92 282.79 L406.78 282.27 L407.64 281.77 L408.50 281.26 L409.37 280.76 L410.24 280.26 L411.10 279.76 L411.97 279.26 L412.84 278.77 L413.71 278.28 L414.59 277.80 L415.47 277.32 L416.35 276.85 L417.23 276.38 L418.12 275.93 L419.01 275.47 L419.91 275.02 L420.80 274.58 L421.70 274.14 L422.60 273.70 L423.51 273.28 L424.42 272.86 L425.33 272.45 L426.24 272.05 L427.16 271.66 L428.08 271.27 L429.01 270.89 L429.94 270.52 L430.87 270.16 L431.81 269.80 L432.74 269.45 L433.68 269.10 L434.62 268.76 L435.56 268.42 L436.50 268.08 L437.45 267.75 L438.39 267.42 L439.34 267.10 L440.29 266.79 L441.24 266.47 L442.19 266.17 L443.15 265.87 L444.10 265.58 L445.06 265.30 L446.02 265.03 L446.99 264.76 L447.95 264.50 L448.92 264.24 L449.89 263.99 L450.86 263.74 L451.83 263.49 L452.80 263.26 L453.77 263.02 L454.74 262.78 L455.71 262.55 L456.69 262.32 L457.66 262.09 L458.64 261.87 L459.62 261.65 L460.60 261.45 L461.58 261.26 L462.56 261.08 L463.54 260.91 L464.53 260.75 L465.52 260.58 L466.51 260.43 L467.50 260.28 L468.49 260.14 L469.48 260.02 L470.48 259.91 L471.47 259.82 L472.47 259.74 L473.46 259.67 L474.46 259.59 L475.46 259.52 L476.46 259.46 L477.46 259.40 L478.46 259.36 L479.46 259.33 L480.46 259.32 L481.46 259.32 L482.46 259.33 L483.46 259.33 L484.46 259.35 L485.46 259.36 L486.46 259.38 L487.46 259.40 L488.46 259.42 L489.46 259.45 L490.45 259.50 L491.45 259.56 L492.45 259.64 L493.45 259.74 L494.44 259.84 L495.44 259.95 L496.43 260.05 L497.42 260.16 L498.41 260.29 L499.40 260.43 L500.39 260.58 L501.38 260.73 L502.37 260.89 L503.36 261.05 L504.35 261.20 L505.34 261.36 L506.32 261.50 L507.32 261.65 L508.31 261.79 L509.30 261.93 L510.29 262.08 L511.28 262.23 L512.26 262.39 L513.25 262.55 L514.23 262.73 L515.21 262.92 L516.19 263.12 L517.16 263.33 L518.14 263.56 L519.11 263.79 L520.08 264.03 L521.05 264.28 L522.02 264.54 L522.98 264.81 L523.95 265.09 L524.00 265.10" stroke="#0000ff" stroke-width="1.5" fill="none" stroke-linejoin="round" stroke-linecap="round"/>
</g>
<path d="M92.00 28.75 H524.00 V354.50 H92.00 Z" stroke="#000" stroke-width="1.68" fill="none" stroke-linejoin="round"/>
<path d="M150.61 354.50 v-3.10 M150.61 28.75 v3.10 M196.08 354.50 v-3.10 M196.08 28.75 v3.10 M233.23 354.50 v-3.10 M233.23 28.75 v3.10 M264.64 354.50 v-3.10 M264.64 28.75 v3.10 M291.84 354.50 v-3.10 M291.84 28.75 v3.10 M315.84 354.50 v-3.10 M315.84 28.75 v3.10 M337.31 354.50 v-6.30 M337.31 28.75 v6.30 M478.53 354.50 v-3.10 M478.53 28.75 v3.10 M92.00 321.19 h4.10 M524.00 321.19 h-4.10 M92.00 295.35 h4.10 M524.00 295.35 h-4.10 M92.00 274.24 h4.10 M524.00 274.24 h-4.10 M92.00 256.40 h4.10 M524.00 256.40 h-4.10 M92.00 240.93 h4.10 M524.00 240.93 h-4.10 M92.00 227.30 h4.10 M524.00 227.30 h-4.10 M92.00 215.10 h8.40 M524.00 215.10 h-8.40 M92.00 134.84 h4.10 M524.00 134.84 h-4.10 M92.00 87.90 h4.10 M524.00 87.90 h-4.10 M92.00 54.59 h4.10 M524.00 54.59 h-4.10" stroke="#000" stroke-width="1.5" fill="none" stroke-linecap="butt"/>
<path transform="translate(307.60 395.70) scale(1.0220 1) translate(-47.86 0)" d="M1.90 -10.00 L1.90 0.00 M1.90 -10.00 L8.10 -10.00 M1.90 -5.24 L5.71 -5.24 M1.90 0.00 L8.10 0.00 M10.95 -6.67 L10.95 0.00 M10.95 -4.76 L12.38 -6.19 L13.33 -6.67 L14.76 -6.67 L15.71 -6.19 L16.19 -4.76 L16.19 0.00 M19.52 -3.81 L25.24 -3.81 L25.24 -4.76 L24.76 -5.71 L24.29 -6.19 L23.33 -6.67 L21.90 -6.67 L20.95 -6.19 L20.00 -5.24 L19.52 -3.81 L19.52 -2.86 L20.00 -1.43 L20.95 -0.48 L21.90 0.00 L23.33 0.00 L24.29 -0.48 L25.24 -1.43 M28.57 -6.67 L28.57 0.00 M28.57 -3.81 L29.05 -5.24 L30.00 -6.19 L30.95 -6.67 L32.38 -6.67 M40.00 -6.67 L40.00 0.95 L39.52 2.38 L39.05 2.86 L38.10 3.33 L36.67 3.33 L35.71 2.86 M40.00 -5.24 L39.05 -6.19 L38.10 -6.67 L36.67 -6.67 L35.71 -6.19 L34.76 -5.24 L34.29 -3.81 L34.29 -2.86 L34.76 -1.43 L35.71 -0.48 L36.67 0.00 L38.10 0.00 L39.05 -0.48 L40.00 -1.43 M42.86 -6.67 L45.71 0.00 M48.57 -6.67 L45.71 0.00 L44.76 1.90 L43.81 2.86 L42.86 3.33 L42.38 3.33 M62.38 -11.90 L61.43 -10.95 L60.48 -9.52 L59.52 -7.62 L59.05 -5.24 L59.05 -3.33 L59.52 -0.95 L60.48 0.95 L61.43 2.38 L62.38 3.33 M65.71 -10.00 L65.71 0.00 M70.48 -6.67 L65.71 -1.90 M67.62 -3.81 L70.95 0.00 M73.33 -3.81 L79.05 -3.81 L79.05 -4.76 L78.57 -5.71 L78.10 -6.19 L77.14 -6.67 L75.71 -6.67 L74.76 -6.19 L73.81 -5.24 L73.33 -3.81 L73.33 -2.86 L73.81 -1.43 L74.76 -0.48 L75.71 0.00 L77.14 0.00 L78.10 -0.48 L79.05 -1.43 M80.95 -10.00 L84.76 0.00 M88.57 -10.00 L84.76 0.00 M90.48 -11.90 L91.43 -10.95 L92.38 -9.52 L93.33 -7.62 L93.81 -5.24 L93.81 -3.33 L93.33 -0.95 L92.38 0.95 L91.43 2.38 L90.48 3.33" stroke="#000" stroke-width="1.50" fill="none" stroke-linecap="round" stroke-linejoin="round" vector-effect="non-scaling-stroke"/>
<path transform="translate(336.91 376.50) scale(1.0220 1) translate(-9.33 0)" d="M2.80 -7.93 L3.73 -8.40 L5.13 -9.80 L5.13 0.00 M13.53 -9.80 L12.13 -9.33 L11.20 -7.93 L10.73 -5.60 L10.73 -4.20 L11.20 -1.87 L12.13 -0.47 L13.53 0.00 L14.47 0.00 L15.87 -0.47 L16.80 -1.87 L17.27 -4.20 L17.27 -5.60 L16.80 -7.93 L15.87 -9.33 L14.47 -9.80 L13.53 -9.80" stroke="#000" stroke-width="1.50" fill="none" stroke-linecap="round" stroke-linejoin="round" vector-effect="non-scaling-stroke"/>
<path transform="translate(86.70 220.40) scale(1.0220 1) translate(-8.90 0)" d="M2.67 -7.57 L3.56 -8.01 L4.90 -9.35 L4.90 0.00" stroke="#000" stroke-width="1.50" fill="none" stroke-linecap="round" stroke-linejoin="round" vector-effect="non-scaling-stroke"/>
<path transform="translate(65.50 191.90) rotate(-90) scale(1.0220 1) translate(-94.24 0)" d="M1.90 -10.00 L1.90 0.00 M6.67 -6.67 L1.90 -1.90 M3.81 -3.81 L7.14 0.00 M9.52 -3.81 L15.24 -3.81 L15.24 -4.76 L14.76 -5.71 L14.29 -6.19 L13.33 -6.67 L11.90 -6.67 L10.95 -6.19 L10.00 -5.24 L9.52 -3.81 L9.52 -2.86 L10.00 -1.43 L10.95 -0.48 L11.90 0.00 L13.33 0.00 L14.29 -0.48 L15.24 -1.43 M17.14 -10.00 L20.95 0.00 M24.76 -10.00 L20.95 0.00 M26.38 -12.19 L26.38 -12.48 L26.67 -13.05 L26.95 -13.33 L27.52 -13.62 L28.67 -13.62 L29.24 -13.33 L29.52 -13.05 L29.81 -12.48 L29.81 -11.90 L29.52 -11.33 L28.95 -10.48 L26.10 -7.62 L30.10 -7.62 M43.81 -11.90 L42.86 -10.95 L41.90 -9.52 L40.95 -7.62 L40.48 -5.24 L40.48 -3.33 L40.95 -0.95 L41.90 0.95 L42.86 2.38 L43.81 3.33 M47.14 -6.67 L47.14 3.33 M47.14 -5.24 L48.10 -6.19 L49.05 -6.67 L50.48 -6.67 L51.43 -6.19 L52.38 -5.24 L52.86 -3.81 L52.86 -2.86 L52.38 -1.43 L51.43 -0.48 L50.48 0.00 L49.05 0.00 L48.10 -0.48 L47.14 -1.43 M56.19 -10.00 L56.19 0.00 M56.19 -4.76 L57.62 -6.19 L58.57 -6.67 L60.00 -6.67 L60.95 -6.19 L61.43 -4.76 L61.43 0.00 M78.10 -5.24 L77.14 -6.19 L76.19 -6.67 L74.76 -6.67 L73.81 -6.19 L72.86 -5.24 L72.38 -3.81 L72.38 -2.86 L72.86 -1.43 L73.81 -0.48 L74.76 0.00 L76.19 0.00 L77.14 -0.48 L78.10 -1.43 M81.43 -6.67 L81.43 0.00 M81.43 -4.76 L82.86 -6.19 L83.81 -6.67 L85.24 -6.67 L86.19 -6.19 L86.67 -4.76 L86.67 0.00 M86.67 -4.76 L88.10 -6.19 L89.05 -6.67 L90.48 -6.67 L91.43 -6.19 L91.90 -4.76 L91.90 0.00 M94.95 -10.19 L100.10 -10.19 M102.38 -12.19 L102.38 -12.48 L102.67 -13.05 L102.95 -13.33 L103.52 -13.62 L104.67 -13.62 L105.24 -13.33 L105.52 -13.05 L105.81 -12.48 L105.81 -11.90 L105.52 -11.33 L104.95 -10.48 L102.10 -7.62 L106.10 -7.62 M121.24 -5.24 L120.76 -6.19 L119.33 -6.67 L117.90 -6.67 L116.48 -6.19 L116.00 -5.24 L116.48 -4.29 L117.43 -3.81 L119.81 -3.33 L120.76 -2.86 L121.24 -1.90 L121.24 -1.43 L120.76 -0.48 L119.33 0.00 L117.90 0.00 L116.48 -0.48 L116.00 -1.43 M123.81 -10.19 L128.95 -10.19 M131.81 -12.48 L132.38 -12.76 L133.24 -13.62 L133.24 -7.62 M145.33 -10.00 L145.33 0.00 M150.10 -6.67 L145.33 -1.90 M147.24 -3.81 L150.57 0.00 M152.95 -3.81 L158.67 -3.81 L158.67 -4.76 L158.19 -5.71 L157.71 -6.19 L156.76 -6.67 L155.33 -6.67 L154.38 -6.19 L153.43 -5.24 L152.95 -3.81 L152.95 -2.86 L153.43 -1.43 L154.38 -0.48 L155.33 0.00 L156.76 0.00 L157.71 -0.48 L158.67 -1.43 M160.57 -10.00 L164.38 0.00 M168.19 -10.00 L164.38 0.00 M169.81 -10.19 L174.95 -10.19 M177.81 -12.48 L178.38 -12.76 L179.24 -13.62 L179.24 -7.62 M183.24 -11.90 L184.19 -10.95 L185.14 -9.52 L186.10 -7.62 L186.57 -5.24 L186.57 -3.33 L186.10 -0.95 L185.14 0.95 L184.19 2.38 L183.24 3.33" stroke="#000" stroke-width="1.50" fill="none" stroke-linecap="round" stroke-linejoin="round" vector-effect="non-scaling-stroke"/>
<path transform="translate(336.90 135.00) scale(1.0220 1) translate(0.00 0)" d="M7.14 -6.67 L7.14 0.00 M7.14 -5.24 L6.19 -6.19 L5.24 -6.67 L3.81 -6.67 L2.86 -6.19 L1.90 -5.24 L1.43 -3.81 L1.43 -2.86 L1.90 -1.43 L2.86 -0.48 L3.81 0.00 L5.24 0.00 L6.19 -0.48 L7.14 -1.43 M18.57 -5.71 L27.14 -5.71 M18.57 -2.86 L27.14 -2.86 M40.95 -10.00 L39.52 -9.52 L38.57 -8.10 L38.10 -5.71 L38.10 -4.29 L38.57 -1.90 L39.52 -0.48 L40.95 0.00 L41.90 0.00 L43.33 -0.48 L44.29 -1.90 L44.76 -4.29 L44.76 -5.71 L44.29 -8.10 L43.33 -9.52 L41.90 -10.00 L40.95 -10.00 M48.57 -0.95 L48.10 -0.48 L48.57 0.00 L49.05 -0.48 L48.57 -0.95 M59.05 -10.00 L54.29 0.00 M52.38 -10.00 L59.05 -10.00 M64.76 -10.00 L63.33 -9.52 L62.38 -8.10 L61.90 -5.71 L61.90 -4.29 L62.38 -1.90 L63.33 -0.48 L64.76 0.00 L65.71 0.00 L67.14 -0.48 L68.10 -1.90 L68.57 -4.29 L68.57 -5.71 L68.10 -8.10 L67.14 -9.52 L65.71 -10.00 L64.76 -10.00" stroke="#0000ff" stroke-width="1.50" fill="none" stroke-linecap="round" stroke-linejoin="round" vector-effect="non-scaling-stroke"/>
<path transform="translate(336.90 175.70) scale(1.0220 1) translate(0.00 0)" d="M7.14 -6.67 L7.14 0.00 M7.14 -5.24 L6.19 -6.19 L5.24 -6.67 L3.81 -6.67 L2.86 -6.19 L1.90 -5.24 L1.43 -3.81 L1.43 -2.86 L1.90 -1.43 L2.86 -0.48 L3.81 0.00 L5.24 0.00 L6.19 -0.48 L7.14 -1.43 M18.57 -5.71 L27.14 -5.71 M18.57 -2.86 L27.14 -2.86 M40.95 -10.00 L39.52 -9.52 L38.57 -8.10 L38.10 -5.71 L38.10 -4.29 L38.57 -1.90 L39.52 -0.48 L40.95 0.00 L41.90 0.00 L43.33 -0.48 L44.29 -1.90 L44.76 -4.29 L44.76 -5.71 L44.29 -8.10 L43.33 -9.52 L41.90 -10.00 L40.95 -10.00 M48.57 -0.95 L48.10 -0.48 L48.57 0.00 L49.05 -0.48 L48.57 -0.95 M58.57 -6.67 L58.10 -5.24 L57.14 -4.29 L55.71 -3.81 L55.24 -3.81 L53.81 -4.29 L52.86 -5.24 L52.38 -6.67 L52.38 -7.14 L52.86 -8.57 L53.81 -9.52 L55.24 -10.00 L55.71 -10.00 L57.14 -9.52 L58.10 -8.57 L58.57 -6.67 L58.57 -4.29 L58.10 -1.90 L57.14 -0.48 L55.71 0.00 L54.76 0.00 L53.33 -0.48 L52.86 -1.43 M64.76 -10.00 L63.33 -9.52 L62.38 -8.10 L61.90 -5.71 L61.90 -4.29 L62.38 -1.90 L63.33 -0.48 L64.76 0.00 L65.71 0.00 L67.14 -0.48 L68.10 -1.90 L68.57 -4.29 L68.57 -5.71 L68.10 -8.10 L67.14 -9.52 L65.71 -10.00 L64.76 -10.00" stroke="#00ff00" stroke-width="1.50" fill="none" stroke-linecap="round" stroke-linejoin="round" vector-effect="non-scaling-stroke"/>
<path transform="translate(336.90 215.50) scale(1.0220 1) translate(0.00 0)" d="M7.14 -6.67 L7.14 0.00 M7.14 -5.24 L6.19 -6.19 L5.24 -6.67 L3.81 -6.67 L2.86 -6.19 L1.90 -5.24 L1.43 -3.81 L1.43 -2.86 L1.90 -1.43 L2.86 -0.48 L3.81 0.00 L5.24 0.00 L6.19 -0.48 L7.14 -1.43 M18.57 -5.71 L27.14 -5.71 M18.57 -2.86 L27.14 -2.86 M40.95 -10.00 L39.52 -9.52 L38.57 -8.10 L38.10 -5.71 L38.10 -4.29 L38.57 -1.90 L39.52 -0.48 L40.95 0.00 L41.90 0.00 L43.33 -0.48 L44.29 -1.90 L44.76 -4.29 L44.76 -5.71 L44.29 -8.10 L43.33 -9.52 L41.90 -10.00 L40.95 -10.00 M48.57 -0.95 L48.10 -0.48 L48.57 0.00 L49.05 -0.48 L48.57 -0.95 M58.57 -6.67 L58.10 -5.24 L57.14 -4.29 L55.71 -3.81 L55.24 -3.81 L53.81 -4.29 L52.86 -5.24 L52.38 -6.67 L52.38 -7.14 L52.86 -8.57 L53.81 -9.52 L55.24 -10.00 L55.71 -10.00 L57.14 -9.52 L58.10 -8.57 L58.57 -6.67 L58.57 -4.29 L58.10 -1.90 L57.14 -0.48 L55.71 0.00 L54.76 0.00 L53.33 -0.48 L52.86 -1.43 M64.29 -10.00 L62.86 -9.52 L62.38 -8.57 L62.38 -7.62 L62.86 -6.67 L63.81 -6.19 L65.71 -5.71 L67.14 -5.24 L68.10 -4.29 L68.57 -3.33 L68.57 -1.90 L68.10 -0.95 L67.62 -0.48 L66.19 0.00 L64.29 0.00 L62.86 -0.48 L62.38 -0.95 L61.90 -1.90 L61.90 -3.33 L62.38 -4.29 L63.33 -5.24 L64.76 -5.71 L66.67 -6.19 L67.62 -6.67 L68.10 -7.62 L68.10 -8.57 L67.62 -9.52 L66.19 -10.00 L64.29 -10.00" stroke="#ff0000" stroke-width="1.50" fill="none" stroke-linecap="round" stroke-linejoin="round" vector-effect="non-scaling-stroke"/>
</svg>
</body></html>
